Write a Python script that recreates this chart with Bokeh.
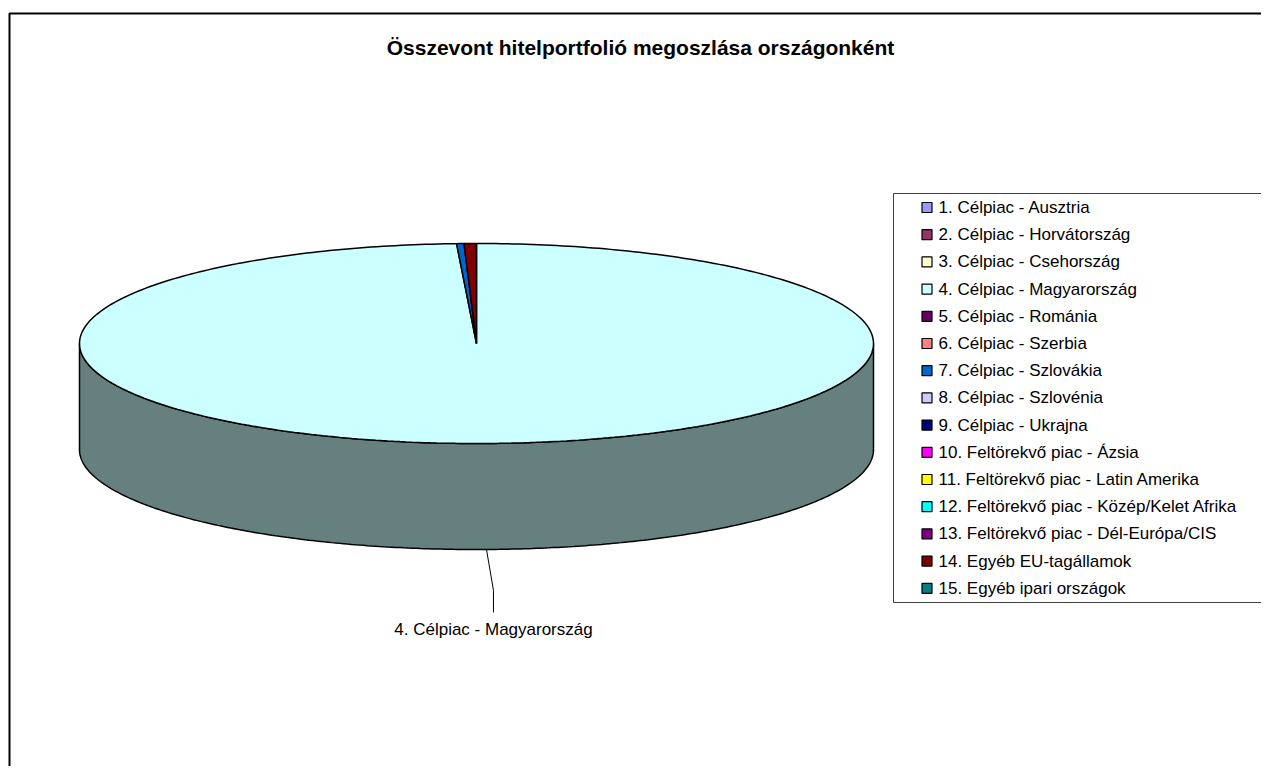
import numpy as np
from bokeh.plotting import figure
from bokeh.models import Range1d, ColumnDataSource
from bokeh.core.properties import value
from bokeh.embed import file_html
from bokeh.resources import INLINE

title = "Összevont hitelportfolió megoszlása országonként"
categories = [
    "1. Célpiac - Ausztria",
    "2. Célpiac - Horvátország",
    "3. Célpiac - Csehország",
    "4. Célpiac - Magyarország",
    "5. Célpiac - Románia",
    "6. Célpiac - Szerbia",
    "7. Célpiac - Szlovákia",
    "8. Célpiac - Szlovénia",
    "9. Célpiac - Ukrajna",
    "10. Feltörekvő piac - Ázsia",
    "11. Feltörekvő piac - Latin Amerika",
    "12. Feltörekvő piac - Közép/Kelet Afrika",
    "13. Feltörekvő piac - Dél-Európa/CIS",
    "14. Egyéb EU-tagállamok",
    "15. Egyéb ipari országok",
]
shares = [0.0, 0.0, 0.0, 99.2, 0.0, 0.0, 0.3, 0.0, 0.0, 0.0, 0.0, 0.0, 0.0, 0.5, 0.0]
colors = ["#9999FF", "#993366", "#FFFFCC", "#CCFFFF", "#660066", "#FF8080", "#0066CC",
          "#CCCCFF", "#000080", "#FF00FF", "#FFFF00", "#00FFFF", "#800080", "#800000", "#008080"]

FONT = value("Liberation Sans")
W, H = 1261, 766
p = figure(width=W, height=H, x_range=Range1d(0, W), y_range=Range1d(H, 0),
           output_backend="svg", toolbar_location=None, min_border=0)
p.axis.visible = False
p.grid.visible = False
p.outline_line_color = None
p.background_fill_color = "white"
p.border_fill_color = "white"

# outer chart border
p.quad(left=[9], right=[1400], top=[13], bottom=[900], fill_color=None,
       line_color="black", line_width=2)

# title
p.text(x=[640], y=[47], text=[title], text_font=FONT, text_font_size=value("21px"),
       text_font_style="bold", text_align="center", text_baseline="middle", text_color="black")

# 3D pie geometry
cx, cy, a, b, depth = 476.0, 343.0, 397.0, 100.0, 106.0


def ell(th):
    return cx + a * np.sin(th), cy - b * np.cos(th)


def darken(hexc, f=0.5):
    h = hexc.lstrip("#")
    r, g, bb = int(h[0:2], 16), int(h[2:4], 16), int(h[4:6], 16)
    return "#%02x%02x%02x" % (int(r * f), int(g * f), int(bb * f))


total = float(sum(shares))
fr = np.array(shares) / total
ends = np.cumsum(fr) * 2 * np.pi
starts = ends - fr * 2 * np.pi

side_xs, side_ys, side_c = [], [], []
top_xs, top_ys, top_c = [], [], []
for s, e, c, f in zip(starts, ends, colors, fr):
    if f <= 0:
        continue
    th = np.linspace(s, e, max(3, int(400 * f) + 3))
    x, y = ell(th)
    top_xs.append([cx] + list(x) + [cx])
    top_ys.append([cy] + list(y) + [cy])
    top_c.append(c)
    lo, hi = max(s, np.pi / 2), min(e, 3 * np.pi / 2)
    if hi > lo:
        th = np.linspace(lo, hi, 300)
        x, y = ell(th)
        side_xs.append(list(x) + list(x[::-1]))
        side_ys.append(list(y) + list((y + depth)[::-1]))
        side_c.append(darken(c))

p.patches(xs=side_xs, ys=side_ys, fill_color=side_c, line_color="black", line_width=1.5)
p.patches(xs=top_xs, ys=top_ys, fill_color=top_c, line_color="black", line_width=1.5)

# data label for the largest slice with leader line
imax = int(np.argmax(shares))
mid = (starts[imax] + ends[imax]) / 2
lx, ly = ell(mid)
ly = ly + depth
p.line(x=[lx, lx + 7, lx + 7], y=[ly, ly + 41, ly + 63], line_color="black", line_width=1)
p.text(x=[lx + 7], y=[ly + 80], text=[categories[imax]], text_font=FONT,
       text_font_size=value("17px"), text_align="center", text_baseline="middle",
       text_color="black")

# legend
p.quad(left=[893], right=[1267], top=[193], bottom=[602], fill_color="white",
       line_color="#404040", line_width=1)
rows = 207.0 + np.arange(len(categories)) * 27.2
leg = ColumnDataSource(dict(x=[926.5] * len(categories), y=list(rows), c=colors,
                            tx=[938] * len(categories), t=categories))
p.rect(x="x", y="y", width=10, height=10, fill_color="c", line_color="black",
       line_width=1.2, source=leg)
p.text(x="tx", y="y", text="t", text_font=FONT, text_font_size=value("17px"),
       text_baseline="middle", text_align="left", text_color="black", source=leg)

open("out.html", "w").write(file_html(p, INLINE))
